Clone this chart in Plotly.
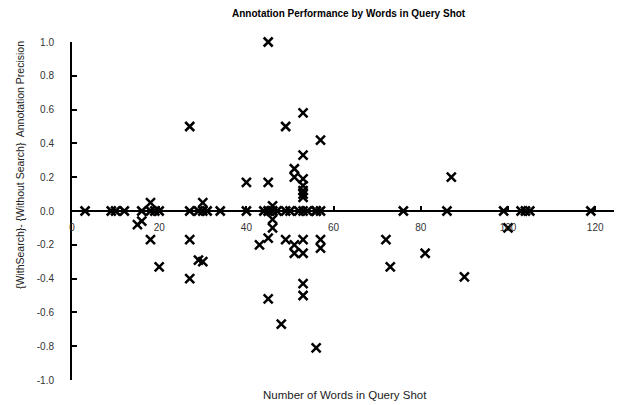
import plotly.graph_objects as go

# Words in query shot (x) and precision difference (y)
words = [3, 9, 10, 12, 16, 18, 19, 20, 27, 29, 30, 31, 34, 40, 44, 45, 45, 46, 46, 47,
         49, 50, 52, 53, 54, 56, 56, 57, 76, 86, 99, 103, 104, 105, 119,
         18, 16, 15, 18, 20,
         27, 27, 27,
         30, 29, 30,
         40, 43,
         45, 45, 46, 46, 46, 45, 45,
         49, 49, 48,
         51, 51, 51, 51,
         53, 53, 53, 53, 53, 53, 53, 53, 53, 53, 53,
         56,
         57, 57, 57,
         72, 73, 81, 87, 90, 100]
precision_diff = [0] * 35 + [
    0.05, -0.06, -0.08, -0.17, -0.33,
    0.5, -0.17, -0.4,
    0.05, -0.29, -0.3,
    0.17, -0.2,
    1.0, 0.17, 0.03, -0.05, -0.1, -0.16, -0.52,
    0.5, -0.17, -0.67,
    0.25, 0.2, -0.2, -0.25,
    0.58, 0.33, 0.19, 0.15, 0.12, 0.1, 0.08, -0.17, -0.25, -0.43, -0.5,
    -0.81,
    0.42, -0.17, -0.22,
    -0.17, -0.33, -0.25, 0.2, -0.39, -0.1]

x_ticks = [0, 20, 40, 60, 80, 100, 120]
y_ticks = [1.0, 0.8, 0.6, 0.4, 0.2, 0.0, -0.2, -0.4, -0.6, -0.8, -1.0]
y_tick_text = ["1.0", "0.8", "0.6", "0.4", "0.2", "0.0", "-0.2", "-0.4", "-0.6", "-0.8", "-1.0"]

title_text = "Annotation Performance by Words in Query Shot"
x_title = "Number of Words in Query Shot"
y_title = "{WithSearch}- {Without Search}  Annotation Precision"

FONT = "Liberation Sans"

fig = go.Figure()
fig.add_trace(go.Scatter(
    x=words, y=precision_diff, mode="markers",
    marker=dict(symbol="x-thin", size=9, color="black",
                line=dict(color="black", width=2.5)),
    cliponaxis=False, showlegend=False,
))

fig.update_layout(
    width=622, height=405,
    margin=dict(l=64, r=13, t=34, b=33),
    paper_bgcolor="white", plot_bgcolor="white",
    font=dict(family=FONT, size=10, color="#222"),
    xaxis=dict(range=[0, 125], anchor="free", position=0.5,
               showline=True, linecolor="black", linewidth=2,
               ticks="inside", ticklen=4, tickwidth=1.5, tickcolor="black",
               tickvals=x_ticks, showgrid=False, zeroline=False,
               ticklabelstandoff=7,
               tickfont=dict(size=10, color="#333")),
    yaxis=dict(range=[-1, 1], showline=True, linecolor="black", linewidth=2,
               ticks="inside", ticklen=5, tickwidth=1.5, tickcolor="black",
               tickvals=y_ticks, ticktext=y_tick_text,
               showgrid=False, zeroline=False,
               ticklabelstandoff=14,
               tickfont=dict(size=10, color="#333")),
    annotations=[
        dict(text="<b>" + title_text + "</b>", xref="paper", yref="paper",
             x=0.5, y=1.0, yanchor="middle", yshift=29, xshift=4, showarrow=False,
             font=dict(size=10, color="black", family=FONT)),
        dict(text=x_title, xref="paper", yref="paper",
             x=0.5, y=0, yanchor="middle", yshift=-15, showarrow=False,
             font=dict(size=11.5, color="#222", family=FONT)),
        dict(text=y_title, xref="paper", yref="paper",
             x=0, xanchor="center", xshift=-52, y=0.636, yanchor="middle",
             textangle=-90, showarrow=False,
             font=dict(size=10.5, color="#222", family=FONT)),
    ],
)

fig.write_html("out.html")
